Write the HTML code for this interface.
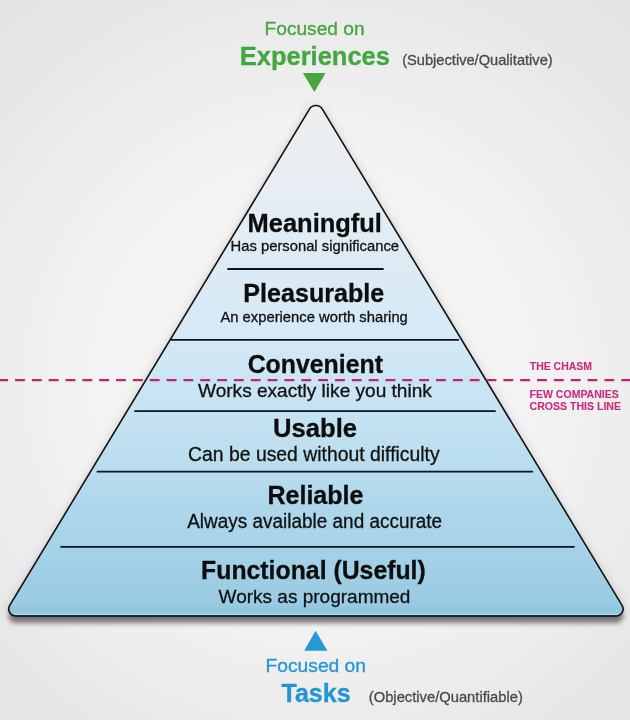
<!DOCTYPE html>
<html><head><meta charset="utf-8">
<style>
html,body{margin:0;padding:0;width:630px;height:720px;overflow:hidden;background:#ececec}
svg{display:block}
text{font-family:"Liberation Sans",sans-serif}
#txt{opacity:0.999}
</style></head><body>
<svg width="630" height="720" viewBox="0 0 630 720">
<defs>
<radialGradient id="bg" cx="315" cy="380" r="480" gradientUnits="userSpaceOnUse">
<stop offset="0" stop-color="#f4f4f4"/><stop offset="0.52" stop-color="#f2f2f2"/><stop offset="0.625" stop-color="#eeeeee"/><stop offset="0.833" stop-color="#e8e8e8"/><stop offset="0.98" stop-color="#e4e4e4"/><stop offset="1" stop-color="#e3e3e3"/>
</radialGradient>
<linearGradient id="fill" x1="0" y1="100" x2="0" y2="616" gradientUnits="userSpaceOnUse">
<stop offset="0" stop-color="#eeeff0"/>
<stop offset="0.058" stop-color="#eceef0"/>
<stop offset="0.188" stop-color="#e6edf3"/>
<stop offset="0.446" stop-color="#d5e9f6"/>
<stop offset="0.640" stop-color="#c2e1f1"/>
<stop offset="0.775" stop-color="#b0d8ec"/>
<stop offset="0.930" stop-color="#9fcee4"/>
<stop offset="0.979" stop-color="#98cbe2"/>
<stop offset="0.982" stop-color="#93c8e0"/>
<stop offset="1" stop-color="#92c7df"/>
</linearGradient>
<filter id="sh" x="-10%" y="-10%" width="120%" height="130%" color-interpolation-filters="sRGB">
<feGaussianBlur in="SourceAlpha" stdDeviation="5" result="b1"/>
<feOffset in="b1" dy="1" result="o1"/>
<feFlood flood-color="#3a2020" flood-opacity="0.22"/>
<feComposite in2="o1" operator="in" result="s1"/>
<feGaussianBlur in="SourceAlpha" stdDeviation="2.4" result="b2"/>
<feOffset in="b2" dy="6.5" result="o2"/>
<feFlood flood-color="#3a2e2e" flood-opacity="0.6"/>
<feComposite in2="o2" operator="in" result="s2"/>
<feMerge><feMergeNode in="s1"/><feMergeNode in="s2"/><feMergeNode in="SourceGraphic"/></feMerge>
</filter>
</defs>
<g id="bgl">
<rect width="630" height="720" fill="url(#bg)"/>
<path d="M322.32,109.13 L622.06,605.38 A7.0,7.0 0 0 1 616.06,616.00 L15.74,616.00 A7.0,7.0 0 0 1 9.74,605.38 L309.48,109.13 A7.5,7.5 0 0 1 322.32,109.13 Z" fill="url(#fill)" filter="url(#sh)"/>
<line x1="15" y1="614.4" x2="617" y2="614.4" stroke="#bde6f5" stroke-width="1" opacity="0.9"/>
<path d="M322.32,109.13 L622.06,605.38 A7.0,7.0 0 0 1 616.06,616.00 L15.74,616.00 A7.0,7.0 0 0 1 9.74,605.38 L309.48,109.13 A7.5,7.5 0 0 1 322.32,109.13 Z" fill="none" stroke="#111" stroke-width="1.6"/>
<line x1="16" y1="616" x2="616" y2="616" stroke="#172630" stroke-width="1.6"/>
<g stroke="#0b1520" stroke-width="1.8" stroke-linecap="round">
<line x1="228" y1="269" x2="383" y2="269"/>
<line x1="171" y1="339.8" x2="459" y2="339.8" stroke-linecap="butt"/>
<line x1="135" y1="411.2" x2="495" y2="411.2"/>
<line x1="97.5" y1="471.7" x2="532.3" y2="471.7"/>
<line x1="61" y1="546.8" x2="574" y2="546.8"/>
</g>
<line x1="-1.84" y1="380.1" x2="640" y2="380.1" stroke="#bc2674" stroke-width="2.2" stroke-dasharray="9.9 6.94"/>
<polygon points="302.9,73.1 325.5,73.1 314.4,92" fill="#45a63c"/>
<polygon points="315.6,630.7 304.2,650.7 327.4,650.7" fill="#2897d6"/>
</g>
<g id="txt">
<text id="t1" x="264.54" y="35.30" font-size="18.25" fill="#43a73f" stroke="#43a73f" stroke-width="0.3" textLength="100.09" lengthAdjust="spacingAndGlyphs">Focused on</text>
<text id="t2" x="239.76" y="65.00" font-size="25.0" font-weight="bold" fill="#43a73f" stroke="#43a73f" stroke-width="0.3" textLength="150.19" lengthAdjust="spacingAndGlyphs">Experiences</text>
<text id="t3" x="402.20" y="65.00" font-size="14.5" fill="#4a4a4a" stroke="#4a4a4a" stroke-width="0.3" textLength="150.50" lengthAdjust="spacingAndGlyphs">(Subjective/Qualitative)</text>
<text id="t4" x="247.58" y="231.90" font-size="25.2" font-weight="bold" fill="#0d0d0d" stroke="#0d0d0d" stroke-width="0.3" textLength="134.37" lengthAdjust="spacingAndGlyphs">Meaningful</text>
<text id="t5" x="230.59" y="251.10" font-size="14.6" fill="#111111" stroke="#111111" stroke-width="0.3" textLength="168.41" lengthAdjust="spacingAndGlyphs">Has personal significance</text>
<text id="t6" x="243.39" y="302.30" font-size="24.9" font-weight="bold" fill="#0d0d0d" stroke="#0d0d0d" stroke-width="0.3" textLength="140.87" lengthAdjust="spacingAndGlyphs">Pleasurable</text>
<text id="t7" x="220.40" y="322.30" font-size="14.7" fill="#111111" stroke="#111111" stroke-width="0.3" textLength="187.46" lengthAdjust="spacingAndGlyphs">An experience worth sharing</text>
<text id="t8" x="247.65" y="373.30" font-size="26.6" font-weight="bold" fill="#0d0d0d" stroke="#0d0d0d" stroke-width="0.3" textLength="135.36" lengthAdjust="spacingAndGlyphs">Convenient</text>
<text id="t9" x="198.00" y="396.80" font-size="18.2" fill="#111111" stroke="#111111" stroke-width="0.3" textLength="233.85" lengthAdjust="spacingAndGlyphs">Works exactly like you think</text>
<text id="t10" x="273.05" y="436.60" font-size="26.5" font-weight="bold" fill="#0d0d0d" stroke="#0d0d0d" stroke-width="0.3" textLength="84.04" lengthAdjust="spacingAndGlyphs">Usable</text>
<text id="t11" x="188.04" y="461.00" font-size="19.9" fill="#111111" stroke="#111111" stroke-width="0.3" textLength="251.64" lengthAdjust="spacingAndGlyphs">Can be used without difficulty</text>
<text id="t12" x="267.41" y="504.20" font-size="25.2" font-weight="bold" fill="#0d0d0d" stroke="#0d0d0d" stroke-width="0.3" textLength="96.08" lengthAdjust="spacingAndGlyphs">Reliable</text>
<text id="t13" x="187.21" y="528.30" font-size="19.4" fill="#111111" stroke="#111111" stroke-width="0.3" textLength="254.94" lengthAdjust="spacingAndGlyphs">Always available and accurate</text>
<text id="t14" x="201.08" y="578.70" font-size="25.9" font-weight="bold" fill="#0d0d0d" stroke="#0d0d0d" stroke-width="0.3" textLength="224.71" lengthAdjust="spacingAndGlyphs">Functional (Useful)</text>
<text id="t15" x="218.60" y="602.60" font-size="19.0" fill="#111111" stroke="#111111" stroke-width="0.3" textLength="191.83" lengthAdjust="spacingAndGlyphs">Works as programmed</text>
<text id="t16" x="265.56" y="671.60" font-size="18.6" fill="#2295d2" stroke="#2295d2" stroke-width="0.3" textLength="100.45" lengthAdjust="spacingAndGlyphs">Focused on</text>
<text id="t17" x="281.43" y="701.90" font-size="26.0" font-weight="bold" fill="#2295d2" stroke="#2295d2" stroke-width="0.3" textLength="69.23" lengthAdjust="spacingAndGlyphs">Tasks</text>
<text id="t18" x="368.79" y="701.80" font-size="14.5" fill="#4a4a4a" stroke="#4a4a4a" stroke-width="0.3" textLength="154.04" lengthAdjust="spacingAndGlyphs">(Objective/Quantifiable)</text>
<text id="t19" x="529.80" y="369.70" font-size="10.5" font-weight="bold" fill="#c82a7e" stroke="#c82a7e" stroke-width="0.1" textLength="62.12" lengthAdjust="spacingAndGlyphs">THE CHASM</text>
<text id="t20" x="529.60" y="397.90" font-size="10.5" font-weight="bold" fill="#c82a7e" stroke="#c82a7e" stroke-width="0.1" textLength="89.16" lengthAdjust="spacingAndGlyphs">FEW COMPANIES</text>
<text id="t21" x="529.60" y="409.80" font-size="10.5" font-weight="bold" fill="#c82a7e" stroke="#c82a7e" stroke-width="0.1" textLength="91.42" lengthAdjust="spacingAndGlyphs">CROSS THIS LINE</text>
</g>
</svg>
</body></html>
